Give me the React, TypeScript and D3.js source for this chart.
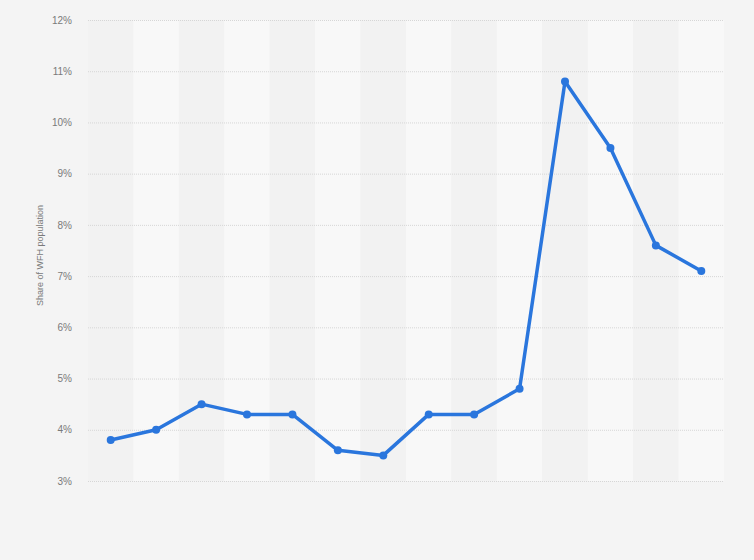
import * as d3 from "d3";
import { useEffect, useRef } from "react";

// one point per period, left to right (no x labels shown in the chart)
const periods = ["P1", "P2", "P3", "P4", "P5", "P6", "P7", "P8", "P9", "P10", "P11", "P12", "P13", "P14"];
const shareValues = [3.8, 4.0, 4.5, 4.3, 4.3, 3.6, 3.5, 4.3, 4.3, 4.8, 10.8, 9.5, 7.6, 7.1];
const yTicks = [3, 4, 5, 6, 7, 8, 9, 10, 11, 12];

const W = 754;
const H = 560;
const margin = { top: 20, right: 30, bottom: 79, left: 88 };

const COLORS = {
  bg: "#f4f4f4",
  bandDark: "#f2f2f2",
  bandLight: "#f8f8f8",
  grid: "#d6d6d6",
  text: "#7a7a7a",
  line: "#2a76dd",
};

const App = () => {
  const svgRef = useRef<SVGSVGElement | null>(null);

  useEffect(() => {
    if (!svgRef.current) return;
    const svg = d3.select(svgRef.current);
    svg.selectAll("*").remove();

    const innerW = W - margin.left - margin.right;
    const innerH = H - margin.top - margin.bottom;

    const x = d3.scaleBand<string>().domain(periods).range([0, innerW]).padding(0);
    const y = d3.scaleLinear().domain([3, 12]).range([innerH, 0]);

    svg.append("rect").attr("width", W).attr("height", H).attr("fill", COLORS.bg);

    const g = svg.append("g").attr("transform", `translate(${margin.left},${margin.top})`);

    // alternating column bands
    g.selectAll("rect.band")
      .data(periods)
      .join("rect")
      .attr("class", "band")
      .attr("x", (d) => x(d)!)
      .attr("y", 0)
      .attr("width", x.bandwidth())
      .attr("height", innerH)
      .attr("fill", (_, i) => (i % 2 ? COLORS.bandLight : COLORS.bandDark));

    // y axis with dotted gridlines
    g.append("g")
      .call(d3.axisLeft(y).tickValues(yTicks).tickSize(-innerW).tickFormat((d) => `${d}%`))
      .call((a) => a.select(".domain").remove())
      .call((a) =>
        a
          .selectAll(".tick line")
          .attr("stroke", COLORS.grid)
          .attr("stroke-dasharray", "1,1")
      )
      .call((a) =>
        a
          .selectAll(".tick text")
          .attr("x", -16)
          .attr("fill", COLORS.text)
          .style("font-family", "Arial, 'Liberation Sans', sans-serif")
          .style("font-size", "10px")
      );

    // y label
    svg
      .append("text")
      .attr("transform", `translate(43,${margin.top + innerH / 2 + 5}) rotate(-90)`)
      .attr("text-anchor", "middle")
      .attr("fill", COLORS.text)
      .style("font-family", "Arial, 'Liberation Sans', sans-serif")
      .style("font-size", "9px")
      .text("Share of WFH population");

    const cx = (i: number) => x(periods[i])! + x.bandwidth() / 2;

    const line = d3
      .line<number>()
      .x((_, i) => cx(i))
      .y((d) => y(d));

    g.append("path")
      .datum(shareValues)
      .attr("d", line)
      .attr("fill", "none")
      .attr("stroke", COLORS.line)
      .attr("stroke-width", 3.5)
      .attr("stroke-linejoin", "round");

    g.selectAll("circle")
      .data(shareValues)
      .join("circle")
      .attr("cx", (_, i) => cx(i))
      .attr("cy", (d) => y(d))
      .attr("r", 4)
      .attr("fill", COLORS.line);
  }, []);

  return (
    <svg
      ref={svgRef}
      width={W}
      height={H}
      style={{ display: "block", position: "absolute", left: 0, top: 0 }}
    />
  );
};

export default App;
